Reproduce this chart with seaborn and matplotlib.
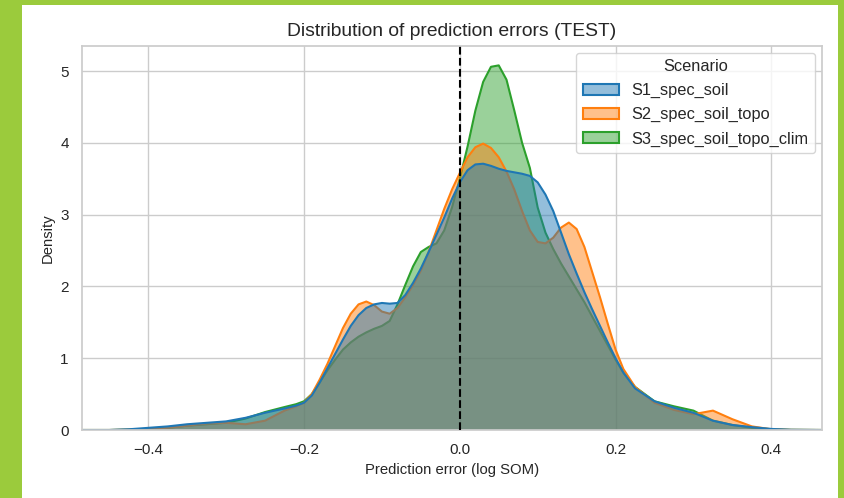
import matplotlib
matplotlib.use("Agg")
import numpy as np
import pandas as pd
import matplotlib.pyplot as plt
import seaborn as sns
from matplotlib.patches import Patch, Rectangle
from matplotlib.colors import to_rgba

# Prediction error grid (log SOM) and the density
error_grid = [-0.485, -0.45, -0.425, -0.40, -0.375, -0.35, -0.325, -0.30, -0.275, -0.25,
              -0.225, -0.21, -0.20, -0.19, -0.18, -0.17, -0.16, -0.15, -0.14, -0.13,
              -0.12, -0.11, -0.10, -0.09, -0.08, -0.07, -0.06, -0.05, -0.04, -0.03,
              -0.02, -0.01, 0.0, 0.01, 0.02, 0.03, 0.04, 0.05, 0.06, 0.07,
              0.08, 0.09, 0.10, 0.11, 0.12, 0.13, 0.14, 0.15, 0.16, 0.17,
              0.18, 0.19, 0.20, 0.21, 0.225, 0.25, 0.275, 0.30, 0.325, 0.35,
              0.375, 0.40, 0.425, 0.465]

s1_density = [0.0, 0.0, 0.01, 0.03, 0.05, 0.08, 0.10, 0.12, 0.17, 0.24,
              0.30, 0.34, 0.38, 0.48, 0.66, 0.86, 1.06, 1.26, 1.45, 1.60,
              1.70, 1.75, 1.77, 1.76, 1.77, 1.88, 2.05, 2.25, 2.48, 2.72,
              2.96, 3.22, 3.45, 3.62, 3.70, 3.71, 3.68, 3.64, 3.61, 3.59,
              3.57, 3.54, 3.45, 3.28, 3.05, 2.75, 2.45, 2.18, 1.92, 1.68,
              1.45, 1.22, 1.00, 0.80, 0.58, 0.40, 0.31, 0.24, 0.13, 0.07,
              0.04, 0.015, 0.003, 0.0]

s2_density = [0.0, 0.0, 0.005, 0.015, 0.03, 0.06, 0.09, 0.10, 0.08, 0.13,
              0.27, 0.33, 0.38, 0.50, 0.70, 0.92, 1.17, 1.42, 1.62, 1.75,
              1.79, 1.74, 1.65, 1.62, 1.70, 1.85, 2.02, 2.22, 2.48, 2.78,
              3.08, 3.35, 3.58, 3.80, 3.94, 3.99, 3.93, 3.80, 3.60, 3.35,
              3.05, 2.78, 2.62, 2.60, 2.68, 2.82, 2.89, 2.80, 2.55, 2.20,
              1.85, 1.48, 1.12, 0.85, 0.60, 0.38, 0.28, 0.22, 0.27, 0.15,
              0.05, 0.01, 0.002, 0.0]

s3_density = [0.0, 0.0, 0.005, 0.015, 0.03, 0.06, 0.08, 0.10, 0.16, 0.25,
              0.32, 0.36, 0.40, 0.50, 0.66, 0.83, 0.98, 1.12, 1.22, 1.30,
              1.36, 1.41, 1.45, 1.52, 1.75, 2.02, 2.28, 2.48, 2.55, 2.60,
              2.78, 3.10, 3.50, 3.95, 4.45, 4.85, 5.06, 5.08, 4.88, 4.45,
              4.00, 3.65, 3.10, 2.75, 2.52, 2.32, 2.14, 1.96, 1.78, 1.58,
              1.38, 1.18, 0.98, 0.80, 0.60, 0.40, 0.33, 0.27, 0.13, 0.07,
              0.03, 0.01, 0.002, 0.0]

scenarios = ["S1_spec_soil", "S2_spec_soil_topo", "S3_spec_soil_topo_clim"]
x_ticks = [-0.4, -0.2, 0.0, 0.2, 0.4]
y_ticks = [0, 1, 2, 3, 4, 5]


def main():
    # 1. Style
    sns.set_theme(style="whitegrid")
    plt.rcParams["font.family"] = ["Liberation Sans", "DejaVu Sans"]
    palette = sns.color_palette("tab10", 3)

    df = pd.DataFrame({
        "error": error_grid * 3,
        "density": s1_density + s2_density + s3_density,
        "scenario": np.repeat(scenarios, len(error_grid)),
    })

    # 2. Figure with green frame
    fig = plt.figure(figsize=(8.44, 4.98), dpi=100)
    fig.patch.set_facecolor("#9bcb3c")
    fig.add_artist(Rectangle((22 / 844, 0), (838 - 22) / 844, 493 / 498,
                             transform=fig.transFigure, facecolor="white",
                             edgecolor="none", zorder=-1))
    ax = fig.add_axes([82 / 844, 1 - 430 / 498, 740 / 844, 384 / 498])

    # 3. Layered densities (last scenario at the bottom, like seaborn kde)
    for i in reversed(range(len(scenarios))):
        sub = df[df["scenario"] == scenarios[i]]
        z = 1 + (len(scenarios) - 1 - i) * 0.2
        ax.fill_between(sub["error"], 0, sub["density"],
                        facecolor=to_rgba(palette[i], 0.48), edgecolor="none", zorder=z)
        sns.lineplot(data=sub, x="error", y="density", color=palette[i],
                     linewidth=1.5, ax=ax, legend=False, zorder=z + 0.1)

    ax.axvline(0, color="black", linestyle="--", linewidth=1.5, zorder=3)

    # 4. Axes, labels, legend
    ax.set_xlim(-0.485, 0.465)
    ax.set_ylim(0, 5.35)
    ax.set_xticks(x_ticks)
    ax.set_yticks(y_ticks)
    ax.tick_params(labelsize=11)
    ax.set_title("Distribution of prediction errors (TEST)", fontsize=13.9, pad=7)
    ax.set_xlabel("Prediction error (log SOM)", fontsize=10.7)
    ax.set_ylabel("Density", fontsize=10.7)

    handles = [Patch(facecolor=to_rgba(palette[i], 0.48), edgecolor=palette[i],
                     linewidth=1.5, label=scenarios[i]) for i in range(len(scenarios))]
    ax.legend(handles=handles, title="Scenario", loc="upper right",
              fontsize=11.8, title_fontsize=11.8, labelspacing=0.55,
              handlelength=2.2, borderaxespad=0.4)

    fig.savefig("out.png", dpi=100, facecolor=fig.get_facecolor())
    plt.close(fig)


if __name__ == "__main__":
    main()
